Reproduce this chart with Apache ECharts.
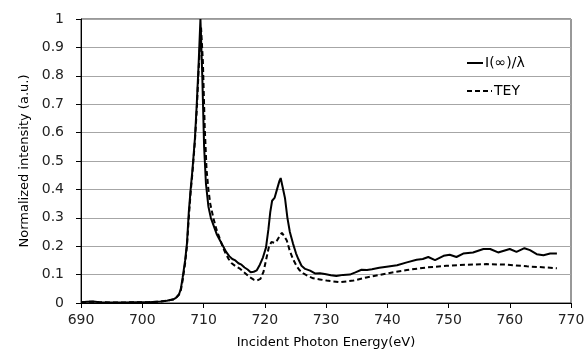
<!DOCTYPE html>
<html>
<head>
<meta charset="utf-8">
<script src="https://cdn.jsdelivr.net/npm/echarts@6/dist/echarts.min.js"></script>
<style>html,body{margin:0;padding:0;background:#fff;}#c{width:588px;height:354px;}</style>
</head>
<body>
<div id="c"></div>
<script>
var xTicks = [690, 700, 710, 720, 730, 740, 750, 760, 770];
var yTicks = [0, 0.1, 0.2, 0.3, 0.4, 0.5, 0.6, 0.7, 0.8, 0.9, 1];

var solidE = [690,691,692,693,695,697,699,701,703,704,705,705.5,706,706.3,706.6,707,707.3,707.6,707.9,708.2,708.6,708.9,709.2,709.5,709.8,710.1,710.4,710.8,711.2,711.7,712.2,712.7,713.2,713.7,714.2,714.7,715.2,715.7,716.2,716.7,717.2,717.7,718.2,718.7,719.2,719.7,720.2,720.6,720.9,721.2,721.6,722.0,722.4,722.6,722.9,723.3,723.7,724.1,724.6,725.1,725.5,726.0,726.6,727.4,728.2,729,729.8,730.8,731.7,732.8,733.9,734.8,735.8,736.7,737.5,738.7,739.9,741.6,743.2,744.8,745.8,746.7,747.8,749.2,750.2,751.3,752.4,754.0,755.7,756.8,758.1,760.0,761.1,762.4,763.3,764.4,765.5,766.6,767.7];
var solidV = [0.003,0.004,0.005,0.003,0.002,0.002,0.003,0.003,0.005,0.008,0.012,0.018,0.03,0.05,0.09,0.15,0.21,0.32,0.40,0.47,0.58,0.70,0.84,1.0,0.80,0.55,0.42,0.34,0.30,0.27,0.24,0.22,0.20,0.18,0.165,0.155,0.15,0.14,0.135,0.125,0.118,0.108,0.11,0.115,0.135,0.16,0.195,0.26,0.32,0.36,0.37,0.40,0.43,0.44,0.41,0.37,0.30,0.25,0.21,0.175,0.154,0.131,0.12,0.114,0.104,0.105,0.102,0.098,0.095,0.099,0.10,0.108,0.117,0.116,0.119,0.124,0.128,0.133,0.143,0.152,0.155,0.162,0.151,0.166,0.17,0.162,0.174,0.178,0.19,0.19,0.178,0.19,0.18,0.193,0.186,0.172,0.168,0.174,0.174];

var dashE = [690,691,692,693,695,697,699,701,703,704,705,705.5,706,706.3,706.6,707,707.3,707.6,707.9,708.2,708.6,708.9,709.2,709.6,709.9,710.2,710.5,710.8,711.1,711.6,712.1,712.6,713.1,713.6,714.1,714.6,715.2,716.0,716.8,717.6,718.2,718.7,719.3,719.8,720.3,720.7,721.1,721.6,722.0,722.4,722.8,723.2,723.6,724.1,724.6,725.2,725.7,726.3,727.1,727.9,729,730.1,731.2,732.3,733.4,734.5,736.6,739.9,743.2,746.4,749.7,753,756.2,759.5,762.8,766,767.7];
var dashV = [0.003,0.004,0.004,0.003,0.002,0.002,0.003,0.003,0.005,0.008,0.012,0.018,0.03,0.045,0.08,0.14,0.2,0.3,0.39,0.46,0.57,0.68,0.82,0.97,0.85,0.62,0.47,0.40,0.35,0.30,0.26,0.23,0.20,0.175,0.155,0.14,0.13,0.12,0.105,0.09,0.082,0.079,0.085,0.11,0.16,0.20,0.215,0.212,0.22,0.235,0.247,0.235,0.22,0.183,0.155,0.13,0.115,0.104,0.095,0.087,0.083,0.079,0.076,0.073,0.076,0.079,0.09,0.104,0.116,0.125,0.131,0.135,0.137,0.135,0.129,0.125,0.122];

function pairs(xs, ys){ var o=[]; for(var i=0;i<xs.length;i++) o.push([xs[i], ys[i]]); return o; }

var chart = echarts.init(document.getElementById('c'), null, {renderer:'canvas'});
var FONT = 'DejaVu Sans';
chart.setOption({
  animation: false,
  backgroundColor: '#fff',
  textStyle: {fontFamily: FONT},
  grid: {left: 81, right: 17, top: 19, bottom: 48, show: true, borderColor: '#333', borderWidth: 1, backgroundColor: 'transparent'},
  legend: [
    {data: ['I(∞)/λ'], orient: 'vertical', left: 461, top: 51, itemWidth: 16, itemHeight: 14, itemGap: 2,
     itemStyle: {opacity: 0},
     textStyle: {fontFamily: FONT, fontSize: 14, color: '#000', padding: [0,0,0,-3]}},
    {data: ['TEY'], orient: 'vertical', left: 461, top: 79, itemWidth: 25, itemHeight: 14, itemGap: 2,
     itemStyle: {opacity: 0},
     textStyle: {fontFamily: FONT, fontSize: 14, color: '#000', padding: [0,0,0,-3]}}
  ],
  xAxis: {
    type: 'value', min: xTicks[0], max: xTicks[xTicks.length-1], interval: 10,
    name: 'Incident Photon Energy(eV)', nameLocation: 'middle', nameGap: 33,
    nameTextStyle: {fontFamily: FONT, fontSize: 13, color: '#000'},
    axisLine: {show: true, lineStyle: {color: '#000', width: 1}},
    axisTick: {show: true, inside: false, length: 5, lineStyle: {color: '#000'}},
    axisLabel: {fontFamily: FONT, fontSize: 14, color: '#222', margin: 10},
    splitLine: {show: false}
  },
  yAxis: {
    type: 'value', min: yTicks[0], max: yTicks[yTicks.length-1], interval: 0.1,
    name: 'Normalized intensity (a.u.)', nameLocation: 'middle', nameGap: 50,
    nameTextStyle: {fontFamily: FONT, fontSize: 13, color: '#000'},
    axisLine: {show: true, lineStyle: {color: '#000', width: 1}},
    axisTick: {show: true, inside: false, length: 5, lineStyle: {color: '#000'}},
    axisLabel: {fontFamily: FONT, fontSize: 14, color: '#222', margin: 17,
      formatter: function(v){ return String(Math.round(v*10)/10); }},
    splitLine: {show: true, lineStyle: {color: '#a6a6a6', width: 1}}
  },
  series: [
    {name: 'I(∞)/λ', type: 'line', data: pairs(solidE, solidV), showSymbol: false, symbol: 'none',
     lineStyle: {color: '#000', width: 2}, itemStyle: {color: '#000'}, z: 3},
    {name: 'TEY', type: 'line', data: pairs(dashE, dashV), showSymbol: false, symbol: 'none',
     lineStyle: {color: '#000', width: 2, type: [5, 3]}, itemStyle: {color: '#000'}, z: 2}
  ]
});
</script>
</body>
</html>
